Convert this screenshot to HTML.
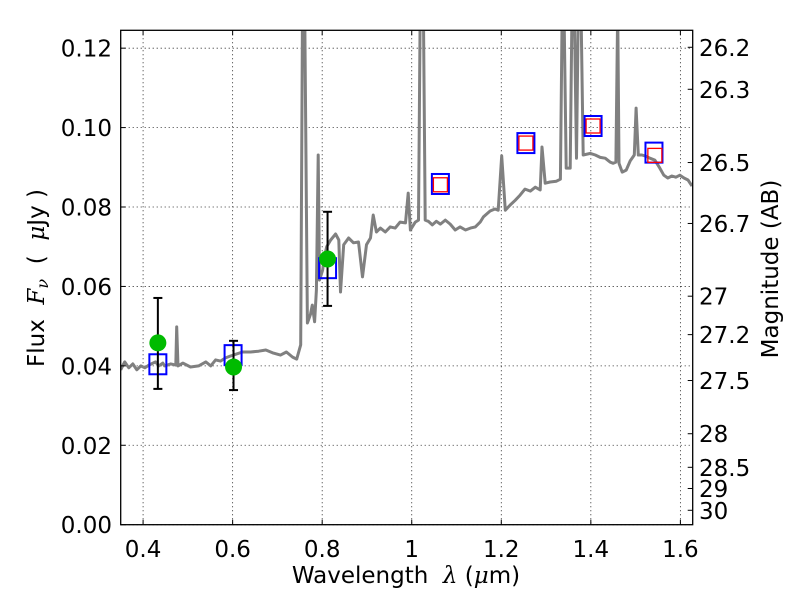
<!DOCTYPE html>
<html><head><meta charset="utf-8"><style>
html,body{margin:0;padding:0;background:#fff;}
svg{display:block;font-family:"DejaVu Sans","Liberation Sans",sans-serif;}
.m{font-family:"DejaVu Serif","Liberation Serif",serif;font-style:italic;}
</style></head><body>
<svg id="chart" width="800" height="600" viewBox="0 0 800 600">
<rect x="0" y="0" width="800" height="600" fill="#fff"/>
<defs><clipPath id="pc"><rect x="121" y="31" width="571" height="494"/></clipPath></defs>
<g id="grid"></g>
<g id="spec" clip-path="url(#pc)"></g>
<g id="marks" clip-path="url(#pc)"></g>
<g id="axes"></g>
<text x="406" y="583" font-size="23" text-anchor="middle" xml:space="preserve">Wavelength  <tspan class="m">λ</tspan> (<tspan class="m">μ</tspan>m)</text>
<text transform="translate(44,278) rotate(-90)" font-size="23" text-anchor="middle" xml:space="preserve">Flux  <tspan class="m">F<tspan font-size="16" dy="4">ν</tspan></tspan><tspan dy="-4">  (  </tspan><tspan class="m">μ</tspan>Jy )</text>
<text transform="translate(778,269) rotate(-90)" font-size="23" text-anchor="middle">Magnitude (AB)</text>
</svg>
<script>
const xTicks=[0.4,0.6,0.8,1.0,1.2,1.4,1.6];
const xTickLabels=["0.4","0.6","0.8","1","1.2","1.4","1.6"];
const yTicks=[0,0.02,0.04,0.06,0.08,0.10,0.12];
const yTickLabels=["0.00","0.02","0.04","0.06","0.08","0.10","0.12"];
const magTicks=[26.2,26.3,26.5,26.7,27,27.2,27.5,28,28.5,29,30];
const magTickLabels=["26.2","26.3","26.5","26.7","27","27.2","27.5","28","28.5","29","30"];
const specWave=[0.350,0.359,0.368,0.377,0.386,0.395,0.404,0.413,0.422,0.428,0.435,0.444,0.448,0.462,0.473,0.475,0.478,0.489,0.506,0.524,0.540,0.551,0.562,0.573,0.584,0.596,0.609,0.622,0.640,0.658,0.674,0.689,0.707,0.720,0.734,0.743,0.752,0.756,0.761,0.767,0.774,0.778,0.783,0.787,0.791,0.794,0.801,0.806,0.810,0.819,0.830,0.837,0.841,0.848,0.859,0.870,0.881,0.890,0.899,0.908,0.914,0.921,0.930,0.941,0.952,0.963,0.974,0.986,0.992,0.997,1.008,1.015,1.019,1.026,1.030,1.037,1.046,1.055,1.064,1.075,1.086,1.097,1.108,1.120,1.131,1.142,1.153,1.160,1.175,1.186,1.193,1.201,1.209,1.220,1.231,1.242,1.253,1.265,1.276,1.287,1.291,1.298,1.309,1.323,1.332,1.336,1.340,1.345,1.354,1.358,1.363,1.368,1.372,1.378,1.383,1.399,1.410,1.421,1.432,1.443,1.450,1.456,1.460,1.463,1.470,1.479,1.488,1.497,1.501,1.506,1.514,1.523,1.532,1.543,1.554,1.563,1.572,1.581,1.590,1.599,1.608,1.617,1.626];
const specFlux=[0.0390,0.0410,0.0395,0.0405,0.0390,0.0400,0.0395,0.0402,0.0407,0.0410,0.0400,0.0407,0.0400,0.0405,0.0402,0.0498,0.0400,0.0407,0.0397,0.0400,0.0410,0.0400,0.0415,0.0412,0.0420,0.0425,0.0430,0.0435,0.0435,0.0437,0.0440,0.0433,0.0427,0.0435,0.0422,0.0417,0.0453,0.13,0.13,0.0508,0.0530,0.0553,0.0511,0.0591,0.0931,0.0616,0.0641,0.0680,0.0700,0.0717,0.0732,0.0717,0.0586,0.0705,0.0722,0.0710,0.0712,0.0624,0.0705,0.0722,0.0780,0.0737,0.0747,0.0737,0.0750,0.0747,0.0762,0.0760,0.0835,0.0742,0.0762,0.0767,0.13,0.13,0.0767,0.0764,0.0755,0.0764,0.0757,0.0767,0.0757,0.0742,0.0750,0.0742,0.0747,0.0750,0.0762,0.0775,0.0790,0.0795,0.0792,0.0929,0.0792,0.0805,0.0817,0.0830,0.0845,0.0840,0.0850,0.0843,0.0951,0.0860,0.0863,0.0865,0.0870,0.13,0.13,0.0898,0.0898,0.13,0.13,0.0923,0.13,0.13,0.0931,0.0935,0.0931,0.0925,0.0923,0.0913,0.0910,0.0913,0.13,0.0910,0.0888,0.0893,0.0916,0.0931,0.1049,0.0931,0.0931,0.0928,0.0923,0.0918,0.0898,0.0880,0.0873,0.0878,0.0875,0.0880,0.0873,0.0868,0.0853];
const obsWave=[0.433,0.602,0.812];
const obsFlux=[0.0458,0.0397,0.0669];
const obsLow=[0.0342,0.0339,0.0551];
const obsHigh=[0.0571,0.0463,0.0788];
const modelWave=[0.433,0.601,0.812,1.064,1.255,1.405,1.541];
const modelFlux=[0.0404,0.0427,0.0646,0.0858,0.0961,0.1004,0.0937];
const fitWave=[1.064,1.255,1.405,1.543];
const fitFlux=[0.0856,0.0961,0.1004,0.0930];

const X0=120.7,X1=692.7,XMIN=0.35,XMAX=1.6275;
const Y0=524.7,Y1=30.3,YMIN=0,YMAX=0.1245;
const sx=v=>X0+(v-XMIN)/(XMAX-XMIN)*(X1-X0);
const sy=v=>Y0-(v-YMIN)/(YMAX-YMIN)*(Y0-Y1);
const magToFlux=m=>Math.pow(10,(23.9-m)/2.5);
const NS="http://www.w3.org/2000/svg";
function mk(tag,attrs,parent){const e=document.createElementNS(NS,tag);for(const k in attrs)e.setAttribute(k,attrs[k]);parent.appendChild(e);return e;}
const grid=document.getElementById('grid'),axes=document.getElementById('axes'),spec=document.getElementById('spec'),marks=document.getElementById('marks');

xTicks.forEach((v,i)=>{
  const x=sx(v);
  const g=mk('line',{x1:x,x2:x,y1:Y1,y2:Y0,stroke:'#000','stroke-width':0.8,'stroke-dasharray':'1,3'},grid);
  
  
  mk('line',{x1:x,x2:x,y1:Y0,y2:Y0-5,stroke:'#000','stroke-width':1},axes);
  mk('line',{x1:x,x2:x,y1:Y1,y2:Y1+5,stroke:'#000','stroke-width':1},axes);
  const t=mk('text',{x:x,y:557,'font-size':23,'text-anchor':'middle'},axes);
  t.textContent=xTickLabels[i];
  
  
});
yTicks.forEach((v,i)=>{
  const y=sy(v);
  const g=mk('line',{x1:X0,x2:X1,y1:y,y2:y,stroke:'#000','stroke-width':0.8,'stroke-dasharray':'1,3'},grid);
  
  
  mk('line',{x1:X0,x2:X0+5,y1:y,y2:y,stroke:'#000','stroke-width':1},axes);
  const t=mk('text',{x:112,y:y+8.5,'font-size':23,'text-anchor':'end'},axes);
  t.textContent=yTickLabels[i];
  
  
});
magTicks.forEach((m,i)=>{
  const y=sy(magToFlux(m));
  mk('line',{x1:X1,x2:X1-5,y1:y,y2:y,stroke:'#000','stroke-width':1},axes);
  const t=mk('text',{x:699,y:y+8.5,'font-size':23,'text-anchor':'start'},axes);
  t.textContent=magTickLabels[i];
  
  
});
const frame=mk('rect',{x:X0,y:Y1,width:X1-X0,height:Y0-Y1,fill:'none',stroke:'#000','stroke-width':1.3},axes);



const pts=specWave.map((w,i)=>sx(w).toFixed(1)+','+sy(specFlux[i]).toFixed(1)).join(' ');
const pl=mk('polyline',{points:pts,fill:'none',stroke:'#808080','stroke-width':3,'stroke-linejoin':'round'},spec);



modelWave.forEach((w,i)=>{
  const r=mk('rect',{x:sx(w)-8.5,y:sy(modelFlux[i])-10,width:17,height:20,fill:'none',stroke:'#0000ff','stroke-width':2},marks);
  
  
});
fitWave.forEach((w,i)=>{
  const r=mk('rect',{x:sx(w)-7,y:sy(fitFlux[i])-7,width:14,height:14,fill:'none',stroke:'#ff0000','stroke-width':1.3},marks);
  
  
});
obsWave.forEach((w,i)=>{
  const x=sx(w),yl=sy(obsLow[i]),yh=sy(obsHigh[i]);
  const e=mk('line',{x1:x,x2:x,y1:yl,y2:yh,stroke:'#000','stroke-width':2},marks);
  
  
  mk('line',{x1:x-4.5,x2:x+4.5,y1:yl,y2:yl,stroke:'#000','stroke-width':2},marks);
  mk('line',{x1:x-4.5,x2:x+4.5,y1:yh,y2:yh,stroke:'#000','stroke-width':2},marks);
  const c=mk('circle',{cx:x,cy:sy(obsFlux[i]),r:8.5,fill:'#00bb00'},marks);
  
  
});
</script>
</body></html>
